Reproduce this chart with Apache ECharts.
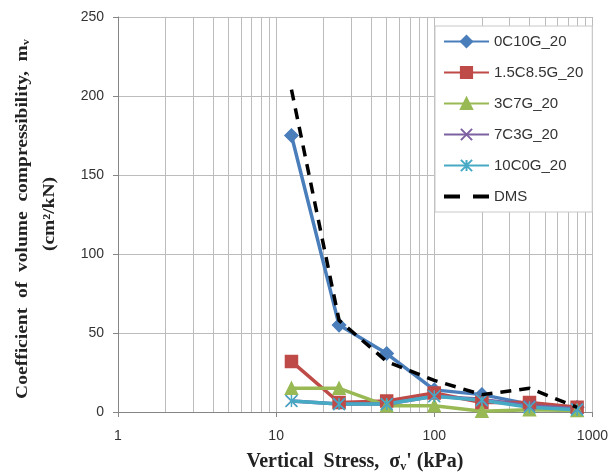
<!DOCTYPE html>
<html><head><meta charset="utf-8">
<script src="https://cdn.jsdelivr.net/npm/echarts@6/dist/echarts.min.js"></script>
<style>html,body{margin:0;padding:0;background:#fff}#c{width:611px;height:473px}</style>
</head><body><div id="c"></div>
<script>
const stress = [12.5, 25, 50, 100, 200, 400, 800];
const s0C10G = [175, 55, 37, 14, 11, 5, 3];
const s15C85G = [32, 6, 7, 12, 6, 6, 3];
const s3C7G = [15, 15, 4, 4, 0.5, 1.5, 1];
const s7C3G = [7, 5, 5, 10, 8, 4, 2];
const s10C0G = [7, 5, 5, 10, 7.5, 3, 1.5];
const dms = [204, 58, 32, 20, 11, 15, 3];
const names = ['0C10G_20', '1.5C8.5G_20', '3C7G_20', '7C3G_20', '10C0G_20', 'DMS'];
const minorX = [2,3,4,5,6,7,8,9,20,30,40,50,60,70,80,90,200,300,400,500,600,700,800,900];

const zip = arr => stress.map((x, i) => [x, arr[i]]);
const chart = echarts.init(document.getElementById('c'));
const mk = (name, data, color, symbol, size) => ({
  name, type: 'line', data: zip(data), symbol, symbolSize: size,
  lineStyle: { color, width: 3.5 },
  itemStyle: { color, borderColor: color, borderWidth: 1.5 },
  z: 3
});
chart.setOption({
  animation: false,
  grid: { left: 118, right: 17, top: 17, bottom: 61 },
  xAxis: {
    type: 'log', logBase: 10, min: 1, max: 1000,
    axisLine: { show: true, lineStyle: { color: '#868686' } },
    axisTick: { show: true, length: 5, lineStyle: { color: '#868686' } },
    axisLabel: { color: '#333', fontSize: 14, fontFamily: 'Liberation Sans', margin: 17,
      formatter: v => String(v) },
    splitLine: { show: true, lineStyle: { color: '#bcbcbc', width: 1 } }
  },
  yAxis: {
    type: 'value', min: 0, max: 250, interval: 50,
    axisLine: { show: true, lineStyle: { color: '#868686' } },
    axisTick: { show: true, length: 5, lineStyle: { color: '#868686' } },
    axisLabel: { color: '#333', fontSize: 14, fontFamily: 'Liberation Sans', margin: 14 },
    splitLine: { show: true, lineStyle: { color: '#bcbcbc', width: 1 } }
  },
  legend: {
    data: names.map(n => n === 'DMS'
      ? { name: n, icon: 'path://M0,5 L16,5 L16,9 L0,9 Z M29,5 L45,5 L45,9 L29,9 Z', itemStyle: { color: '#000' } }
      : n),
    orient: 'vertical', left: 435, top: 26, z: 20,
    padding: [8, 9, 8, 8], itemWidth: 45, itemHeight: 14, itemGap: 16,
    backgroundColor: '#fff', borderColor: '#c8c8c8', borderWidth: 1,
    textStyle: { fontSize: 15, fontFamily: 'Liberation Sans', color: '#333' }
  },
  graphic: [
    { type: 'text', x: 23, y: 219, rotation: Math.PI / 2, scaleX: 1.22,
      style: { text: 'Coefficient  of  volume  compressibility,  m{s|v}',
        font: 'bold 16px "Liberation Serif"', fill: '#222',
        textAlign: 'center', textVerticalAlign: 'middle',
        rich: { s: { fontSize: 10, fontWeight: 'bold', fontFamily: 'Liberation Serif', verticalAlign: 'bottom', padding: [6, 0, 0, 0] } } } },
    { type: 'text', x: 50, y: 214, rotation: Math.PI / 2, scaleX: 1.22,
      style: { text: '(cm²/kN)', font: 'bold 16px "Liberation Serif"', fill: '#222',
        textAlign: 'center', textVerticalAlign: 'middle' } },
    { type: 'text', x: 355, y: 462,
      style: { text: "Vertical  Stress,  σ{s|v}' (kPa)", font: 'bold 20px "Liberation Serif"', fill: '#222',
        textAlign: 'center', textVerticalAlign: 'middle',
        rich: { s: { fontSize: 12, fontWeight: 'bold', fontFamily: 'Liberation Serif', verticalAlign: 'bottom', padding: [9, 0, 0, 0] } } } }
  ],
  series: [
    { name: 'minor', type: 'line', data: [], silent: true, z: 1,
      markLine: { silent: true, symbol: 'none', label: { show: false }, z: 1,
        lineStyle: { color: '#bcbcbc', width: 1, type: 'solid' },
        data: minorX.map(v => ({ xAxis: v })) } },
    mk('0C10G_20', s0C10G, '#4A7EBB', 'diamond', 13),
    mk('1.5C8.5G_20', s15C85G, '#BE4B48', 'rect', 12),
    mk('3C7G_20', s3C7G, '#98B954', 'triangle', 12),
    mk('7C3G_20', s7C3G, '#7D60A0', 'path://M0,0 L10,10 M10,0 L0,10', 11),
    mk('10C0G_20', s10C0G, '#46AAC5', 'path://M0,0 L10,10 M10,0 L0,10 M5,0 L5,10', 12),
    { name: 'DMS', type: 'line', data: zip(dms), symbol: 'none', z: 4,
      lineStyle: { color: '#000', width: 3.5, type: [11, 8] },
      itemStyle: { color: '#000' } }
  ]
});
</script></body></html>
